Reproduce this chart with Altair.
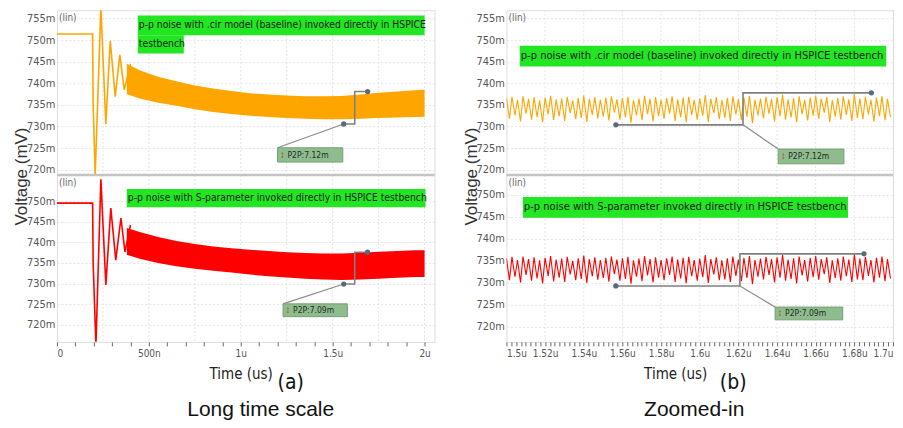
import altair as alt
import pandas as pd

NARROW = "Liberation Sans Narrow, DejaVu Sans Condensed, sans-serif"
SANS = "Liberation Sans, Arial, sans-serif"

ORANGE = "#ffa500"
RED = "#ff0000"
GREEN = "#22e622"

# ---------------- data ----------------
# (a) long time scale, top : .cir model (baseline)
a1_init_t = [0.0, 0.194, 0.197, 0.208, 0.239, 0.266, 0.290, 0.317, 0.342, 0.366, 0.400]
a1_init_v = [751.4, 751.4, 735.0, 718.8, 757.5, 730.6, 749.8, 736.9, 746.6, 738.5, 744.5]
band_t = [0.38, 0.45, 0.55, 0.65, 0.75, 0.85, 0.95, 1.05, 1.15, 1.25, 1.35, 1.45,
          1.55, 1.65, 1.75, 1.85, 1.95, 2.00]
a1_hi = [744.5, 743.0, 741.5, 740.5, 739.5, 738.8, 738.2, 737.7, 737.4, 737.2, 737.0,
         737.0, 737.1, 737.4, 737.8, 738.1, 738.4, 738.5]
a1_lo = [737.5, 736.5, 735.5, 734.8, 734.0, 733.4, 732.9, 732.5, 732.2, 732.0, 731.8,
         731.7, 731.7, 731.8, 732.0, 732.1, 732.2, 732.3]

# (a) long time scale, bottom : S-parameter
a2_init_t = [0.0, 0.194, 0.197, 0.212, 0.239, 0.266, 0.293, 0.320, 0.348, 0.370, 0.400]
a2_init_v = [749.5, 749.5, 735.0, 715.0, 755.3, 729.7, 748.3, 735.7, 745.9, 737.7, 744.2]
a2_hi = [743.5, 742.5, 741.3, 740.3, 739.6, 739.0, 738.6, 738.2, 737.9, 737.6, 737.4,
         737.3, 737.3, 737.5, 737.7, 737.9, 738.1, 738.1]
a2_lo = [737.0, 736.0, 735.0, 734.2, 733.6, 733.1, 732.7, 732.2, 731.8, 731.5, 731.2,
         731.0, 730.9, 731.0, 731.2, 731.4, 731.6, 731.6]

# (b) zoomed-in, top : peaks and dips of each ripple cycle
b1_hi = [736.6, 736.9, 736.2, 737.0, 736.4, 736.8, 736.1, 736.7, 737.1, 736.3, 736.5, 736.9,
         736.0, 736.6, 737.2, 736.4, 736.8, 736.2, 736.7, 737.0, 736.3, 736.6, 736.9, 736.1,
         736.5, 737.1, 736.4, 736.8, 736.2, 736.6, 737.0, 736.3, 736.7, 736.9, 736.2, 736.5,
         737.3, 736.4, 736.8, 736.1, 736.6, 737.0, 736.3, 736.7, 737.1, 736.2, 736.5, 736.9,
         736.4, 736.8, 737.4, 736.3, 736.6, 737.0, 736.2, 736.7, 737.1, 736.4, 736.8, 736.1,
         736.6, 737.0, 736.3, 737.5, 736.5, 736.9, 736.2, 736.7, 737.0, 736.4]
b1_lo = [731.8, 732.6, 731.2, 733.0, 731.6, 732.2, 731.0, 732.8, 731.5, 732.4, 731.3, 733.1,
         731.7, 732.0, 731.1, 732.7, 731.9, 732.3, 731.4, 733.2, 731.6, 732.1, 730.9, 732.6,
         731.5, 732.9, 731.2, 732.4, 731.8, 733.0, 731.3, 732.2, 731.0, 732.7, 731.6, 732.5,
         731.1, 733.1, 731.7, 732.0, 731.3, 732.8, 731.5, 732.3, 730.8, 732.6, 731.9, 733.0,
         731.2, 732.4, 731.6, 732.1, 731.0, 732.9, 731.4, 732.5, 731.8, 733.2, 731.1, 732.3,
         731.6, 732.7, 731.3, 732.0, 731.7, 732.8, 731.2, 732.4, 731.5, 732.2]

# (b) zoomed-in, bottom
b2_hi = [735.6, 735.9, 735.2, 736.0, 735.4, 735.8, 735.1, 735.7, 736.1, 735.3, 735.5, 735.9,
         735.0, 735.6, 736.2, 735.4, 735.8, 735.2, 735.7, 736.0, 735.3, 735.6, 735.9, 735.1,
         735.5, 736.1, 735.4, 735.8, 735.2, 735.6, 736.0, 735.3, 735.7, 735.9, 735.2, 735.5,
         736.3, 735.4, 735.8, 735.1, 735.6, 736.0, 735.3, 735.7, 736.1, 735.2, 735.5, 735.9,
         735.4, 735.8, 736.4, 735.3, 735.6, 736.0, 735.2, 735.7, 736.1, 735.4, 735.8, 735.1,
         735.6, 736.0, 735.3, 736.5, 735.5, 735.9, 735.2, 735.7, 736.0, 735.4]
b2_lo = [730.6, 731.4, 730.1, 731.8, 730.5, 731.0, 729.9, 731.6, 730.3, 731.2, 730.2, 731.9,
         730.6, 730.9, 730.0, 731.5, 730.7, 731.1, 730.3, 732.0, 730.5, 730.9, 729.8, 731.4,
         730.4, 731.7, 730.1, 731.2, 730.6, 731.8, 730.2, 731.0, 729.9, 731.5, 730.5, 731.3,
         730.0, 731.9, 730.6, 730.8, 730.2, 731.6, 730.4, 731.1, 729.7, 731.4, 730.8, 731.8,
         730.1, 731.2, 730.5, 730.9, 729.9, 731.7, 730.3, 731.3, 730.7, 732.0, 730.0, 731.1,
         730.5, 731.5, 730.2, 730.8, 730.6, 731.6, 730.1, 731.2, 730.4, 731.0]

# P2P annotations: measurement path (low marker -> step -> high marker), slant, box
ann = {
    "a1": dict(pt=[1.56, 1.62, 1.62, 1.69], pv=[730.6, 730.6, 738.1, 738.1],
               st=[1.20, 1.56], sv=[725.1, 730.6], box=[1.20, 1.555, 721.8, 725.1], label="P2P:7.12m"),
    "a2": dict(pt=[1.56, 1.62, 1.62, 1.69], pv=[729.9, 729.9, 737.6, 737.6],
               st=[1.23, 1.56], sv=[725.1, 729.9], box=[1.23, 1.58, 722.0, 725.1], label="P2P:7.09m"),
    "b1": dict(pt=[1.5566, 1.6224, 1.6224, 1.6888], pv=[730.4, 730.4, 737.8, 737.8],
               st=[1.6224, 1.6406], sv=[730.4, 724.8], box=[1.6406, 1.6746, 721.4, 724.8], label="P2P:7.12m"),
    "b2": dict(pt=[1.5566, 1.6208, 1.6208, 1.685], pv=[729.3, 729.3, 736.6, 736.6],
               st=[1.6208, 1.639], sv=[729.3, 724.5], box=[1.639, 1.674, 721.6, 724.5], label="P2P:7.09m"),
}

txt_cir = "p-p noise with .cir model (baseline) invoked directly in HSPICE"
txt_cir_full = "p-p noise with .cir model (baseline) invoked directly in HSPICE testbench"
txt_s = "p-p noise with S-parameter invoked directly in HSPICE testbench"

# green label boxes: (t1, t2, v_top, v_bottom, text, fontsize)
green = {
    "a1": [(0.44, 2.0, 755.7, 751.1, txt_cir, 10.3), (0.44, 0.69, 751.1, 746.9, "testbench", 10.3)],
    "a2": [(0.38, 2.005, 752.9, 748.5, txt_s, 10.3)],
    "b1": [(1.5069, 1.6965, 748.7, 743.9, txt_cir_full, 11.1)],
    "b2": [(1.5085, 1.6767, 749.5, 744.8, txt_s, 11.1)],
}

ytick_top = [720, 725, 730, 735, 740, 745, 750, 755]
ytick_bot = [720, 725, 730, 735, 740, 745, 750]
a_xticks = [0.0, 0.1, 0.2, 0.3, 0.4, 0.5, 0.6, 0.7, 0.8, 0.9, 1.0, 1.1, 1.2, 1.3, 1.4,
            1.5, 1.6, 1.7, 1.8, 1.9, 2.0]
a_xgrid = [0.25, 0.5, 0.75, 1.0, 1.25, 1.5, 1.75, 2.0]
b_xticks = [round(1.5 + i * 0.0025, 4) for i in range(81)]
b_xgrid = [1.52, 1.54, 1.56, 1.58, 1.6, 1.62, 1.64, 1.66, 1.68]


def wave_df(hi, lo, t0, t1):
    P = (t1 - t0) / len(hi)
    t, v = [], []
    for i in range(len(hi)):
        t += [t0 + i * P, t0 + (i + 0.55) * P]
        v += [hi[i], lo[i]]
    return pd.DataFrame({"t": t, "v": v, "i": range(len(t))})


def subplot(key, w, h, xdom, ydom, yticks, top, wave_layers, xticks, xgrid, xlabelexpr, xtitle_x, extra_texts):
    yaxis_kw = dict(values=yticks, labelExpr="datum.value + 'm'", grid=True, gridColor="#e4e4e4",
                    gridDash=[2, 2], ticks=False, domain=False, labelFont=NARROW, labelFontSize=11,
                    labelColor="#555", labelPadding=2)
    if top:
        yaxis = alt.Axis(title="Voltage (mV)", titleFont=SANS, titleFontSize=17, titleFontWeight="normal",
                         titleColor="#333", titleAngle=270, titleAlign="center", titleBaseline="middle",
                         titleX=-35, titleY=h + 1, **yaxis_kw)
        xaxis = None
    else:
        yaxis = alt.Axis(title=None, **yaxis_kw)
        xaxis = alt.Axis(values=xticks, labelExpr=xlabelexpr, labelOverlap=False, grid=False,
                         domain=False, tickSize=4, tickColor="#666", labelFont=NARROW, labelFontSize=10,
                         labelColor="#555", labelPadding=3, title="Time (us)", titleFont=NARROW,
                         titleFontSize=15, titleFontWeight="normal", titleColor="#222",
                         titleX=xtitle_x, titleY=32, titleBaseline="middle")
    X = alt.X("t:Q", scale=alt.Scale(domain=xdom, nice=False, zero=False), axis=xaxis)
    Y = alt.Y("v:Q", scale=alt.Scale(domain=ydom, nice=False, zero=False), axis=yaxis)

    layers = []
    layers.append(alt.Chart(pd.DataFrame({"t": xgrid})).mark_rule(
        color="#e4e4e4", strokeDash=[2, 2], strokeWidth=1).encode(x=X))
    layers += [l(X, Y) for l in wave_layers]

    # green labels
    g = green[key]
    gd = pd.DataFrame({"t": [r[0] for r in g], "t2": [r[1] for r in g],
                       "v": [r[2] for r in g], "v2": [r[3] for r in g]})
    layers.append(alt.Chart(gd).mark_rect(color=GREEN).encode(x=X, x2="t2:Q", y=Y, y2="v2:Q"))
    for r in g:
        td = pd.DataFrame({"t": [r[0]], "v": [(r[2] + r[3]) / 2], "s": [r[4]]})
        layers.append(alt.Chart(td).mark_text(align="left", baseline="middle", dx=1, font=NARROW,
                                              fontSize=r[5], color="#1a1a1a").encode(x=X, y=Y, text="s:N"))

    # P2P annotation
    a = ann[key]
    pd_path = pd.DataFrame({"t": a["pt"], "v": a["pv"], "i": range(4)})
    layers.append(alt.Chart(pd_path).mark_line(color="#808080", strokeWidth=1.6).encode(x=X, y=Y, order="i:O"))
    pd_sl = pd.DataFrame({"t": a["st"], "v": a["sv"], "i": range(2)})
    layers.append(alt.Chart(pd_sl).mark_line(color="#8a8a8a", strokeWidth=1.2).encode(x=X, y=Y, order="i:O"))
    pd_mk = pd.DataFrame({"t": [a["pt"][0], a["pt"][3]], "v": [a["pv"][0], a["pv"][3]]})
    layers.append(alt.Chart(pd_mk).mark_point(filled=True, shape="circle", size=28, color="#5a6a7a",
                                             opacity=1).encode(x=X, y=Y))
    b = a["box"]
    pd_box = pd.DataFrame({"t": [b[0]], "t2": [b[1]], "v": [b[2]], "v2": [b[3]]})
    layers.append(alt.Chart(pd_box).mark_rect(color="#8fbc8f", stroke="#73a073", strokeWidth=1).encode(
        x=X, x2="t2:Q", y=Y, y2="v2:Q"))
    pd_lab = pd.DataFrame({"t": [b[0]], "v": [(b[2] + b[3]) / 2], "s": [a["label"]], "ic": ["↕"]})
    layers.append(alt.Chart(pd_lab).mark_text(align="center", baseline="middle", dx=5, font=SANS,
                                              fontSize=10, color="#c0392b").encode(x=X, y=Y, text="ic:N"))
    layers.append(alt.Chart(pd_lab).mark_text(align="left", baseline="middle", dx=10, font=NARROW,
                                              fontSize=8.5, color="#1e2e1e").encode(x=X, y=Y, text="s:N"))

    # scale-type tag
    layers.append(alt.Chart(pd.DataFrame({"s": ["(lin)"]})).mark_text(
        align="left", baseline="middle", font=NARROW, fontSize=10, color="#666").encode(
        x=alt.value(2), y=alt.value(8), text="s:N"))

    if not top:
        layers.append(alt.Chart(pd.DataFrame({"a": [0]})).mark_rule(color="#c4c4c4", strokeWidth=2.5).encode(
            x=alt.value(0), x2=alt.value(w), y=alt.value(0)))
        for (px, py, s, fs, fnt) in extra_texts:
            layers.append(alt.Chart(pd.DataFrame({"s": [s]})).mark_text(
                align="center", baseline="middle", font=fnt, fontSize=fs, color="#111").encode(
                x=alt.value(px), y=alt.value(py), text="s:N"))
    return alt.layer(*layers).properties(width=w, height=h)


def orange_a(X, Y):
    init = pd.DataFrame({"t": a1_init_t, "v": a1_init_v, "i": range(len(a1_init_t))})
    band = pd.DataFrame({"t": band_t, "v": a1_hi, "v2": a1_lo})
    return alt.layer(
        alt.Chart(band).mark_area(color=ORANGE, clip=True, opacity=1).encode(x=X, y=Y, y2="v2:Q"),
        alt.Chart(init).mark_line(color=ORANGE, strokeWidth=1.6, clip=True).encode(x=X, y=Y, order="i:O"),
    )


def red_a(X, Y):
    init = pd.DataFrame({"t": a2_init_t, "v": a2_init_v, "i": range(len(a2_init_t))})
    band = pd.DataFrame({"t": band_t, "v": a2_hi, "v2": a2_lo})
    return alt.layer(
        alt.Chart(band).mark_area(color=RED, clip=True, opacity=1).encode(x=X, y=Y, y2="v2:Q"),
        alt.Chart(init).mark_line(color=RED, strokeWidth=1.6, clip=True).encode(x=X, y=Y, order="i:O"),
    )


def orange_b(X, Y):
    return alt.Chart(wave_df(b1_hi, b1_lo, 1.5, 1.7)).mark_line(
        color=ORANGE, strokeWidth=1.1, clip=True).encode(x=X, y=Y, order="i:O")


def red_b(X, Y):
    return alt.Chart(wave_df(b2_hi, b2_lo, 1.5, 1.7)).mark_line(
        color=RED, strokeWidth=1.1, clip=True).encode(x=X, y=Y, order="i:O")


a_lab = ("datum.value == 0 ? '0' : datum.value == 0.5 ? '500n' : "
         "(datum.value == 1 || datum.value == 1.5 || datum.value == 2) ? datum.value + 'u' : ''")
b_lab = "abs(datum.value * 50 - round(datum.value * 50)) < 0.001 ? datum.value + 'u' : ''"

AW, BW, HT, HB = 378, 387, 165, 167

a_top = subplot("a1", AW, HT, [0, 2.054], [718.8, 756.9], ytick_top, True, [orange_a],
                a_xticks, a_xgrid, a_lab, 184, [])
a_bot = subplot("a2", AW, HB, [0, 2.054], [715.9, 756.3], ytick_bot, False, [red_a],
                a_xticks, a_xgrid, a_lab, 184,
                [(234, 208, "(a)", 21, NARROW), (204, 235, "Long time scale", 21, SANS)])
b_top = subplot("b1", BW, HT, [1.5, 1.7], [718.8, 756.9], ytick_top, True, [orange_b],
                b_xticks, b_xgrid, b_lab, 169, [])
b_bot = subplot("b2", BW, HB, [1.5, 1.7], [716.6, 754.5], ytick_bot, False, [red_b],
                b_xticks, b_xgrid, b_lab, 169,
                [(227, 208, "(b)", 21, NARROW), (188, 235, "Zoomed-in", 21, SANS)])

left = alt.vconcat(a_top, a_bot, spacing=0, bounds="flush")
right = alt.vconcat(b_top, b_bot, spacing=0, bounds="flush")

chart = alt.hconcat(left, right, spacing=25).properties(
    padding={"left": 4, "top": 1, "right": 0, "bottom": 0}
).configure_view(stroke="#333", strokeWidth=1.5).configure(background="white")

chart.save("out.html", embed_options={"renderer": "svg", "actions": False})
